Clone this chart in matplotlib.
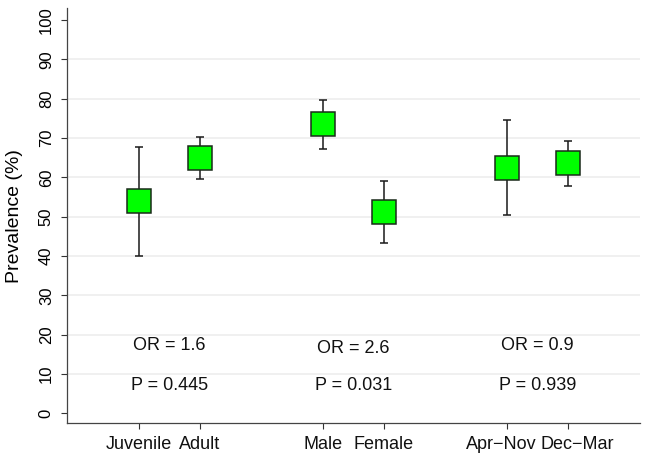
import matplotlib
matplotlib.use("Agg")
import matplotlib.pyplot as plt

# Данные графика
categories = ["Juvenile", "Adult", "Male", "Female", "Apr\u2212Nov", "Dec\u2212Mar"]
prevalence = [53.9, 65.0, 73.6, 51.2, 62.5, 63.6]  # оценка (%)
ci_low = [40.1, 59.5, 67.3, 43.4, 50.4, 57.9]  # нижняя граница
ci_high = [67.7, 70.4, 79.8, 59.0, 74.7, 69.2]  # верхняя граница
odds_ratio = ["1.6", "2.6", "0.9"]
p_values = ["0.445", "0.031", "0.939"]

plt.rcParams["font.family"] = ["Liberation Sans", "DejaVu Sans"]

# позиции: пары с пропуском между группами
pos = []
for g in range(len(categories) // 2):
    pos += [1 + 3 * g, 2 + 3 * g]

fig = plt.figure(figsize=(6.46, 4.59), dpi=100)
ax = fig.add_axes([0.1033, 0.0778, 0.8874, 0.9042])

err_low = [p - l for p, l in zip(prevalence, ci_low)]
err_high = [h - p for p, h in zip(prevalence, ci_high)]
ax.errorbar(pos, prevalence, yerr=[err_low, err_high], fmt="none",
            ecolor="#1a1a1a", elinewidth=1.1, capsize=2.9, capthick=1.1,
            zorder=3)
ax.plot(pos, prevalence, linestyle="none", marker="s", markersize=17,
        markerfacecolor="#00ff00", markeredgecolor="#1a2a1a",
        markeredgewidth=1.1, zorder=4)

# подписи OR и P над осью
or_y = [17.3, 16.6, 17.3]
p_y = 7.1
for g in range(len(odds_ratio)):
    xc = (pos[2 * g] + pos[2 * g + 1]) / 2
    ax.text(xc, or_y[g], "OR = " + odds_ratio[g], ha="center", va="center",
            fontsize=13, color="#111111")
    ax.text(xc, p_y, "P = " + p_values[g], ha="center", va="center",
            fontsize=13, color="#111111")

ax.set_xlim(-0.17, 9.17)
ax.set_ylim(-2.5, 103)
ax.set_xticks(pos)
ax.set_xticklabels([])
ax.set_yticks(range(0, 101, 10))
ax.set_yticklabels([str(v) for v in range(0, 101, 10)], fontsize=12,
                   rotation=90, va="center")
ax.set_ylabel("Prevalence (%)", fontsize=14)
ax.yaxis.set_label_coords(-0.077, 0.5)

# подписи категорий; последние две раздвинуты, чтобы не налезали
label_dx = [0, 0, 0, 0, -4, 6.5]  # сдвиг в пунктах
for x, name, dx in zip(pos, categories, label_dx):
    ax.annotate(name, xy=(x, 0), xycoords=("data", "axes fraction"),
                xytext=(dx, -9.5), textcoords="offset points",
                ha="center", va="top", fontsize=13, color="#111111")

ax.tick_params(axis="y", length=4.3, width=0.8, color="#333333", pad=5)
ax.tick_params(axis="x", length=4, width=0.8, color="#333333", pad=5)

ax.yaxis.grid(True, color="#ececec", linewidth=1.1)
ax.set_axisbelow(True)
ticks = ax.yaxis.get_major_ticks()
ticks[0].gridline.set_visible(False)
ticks[-1].gridline.set_visible(False)

for side in ["top", "right"]:
    ax.spines[side].set_visible(False)
for side in ["left", "bottom"]:
    ax.spines[side].set_color("#444444")
    ax.spines[side].set_linewidth(0.9)

plt.savefig("out.png", dpi=100)
